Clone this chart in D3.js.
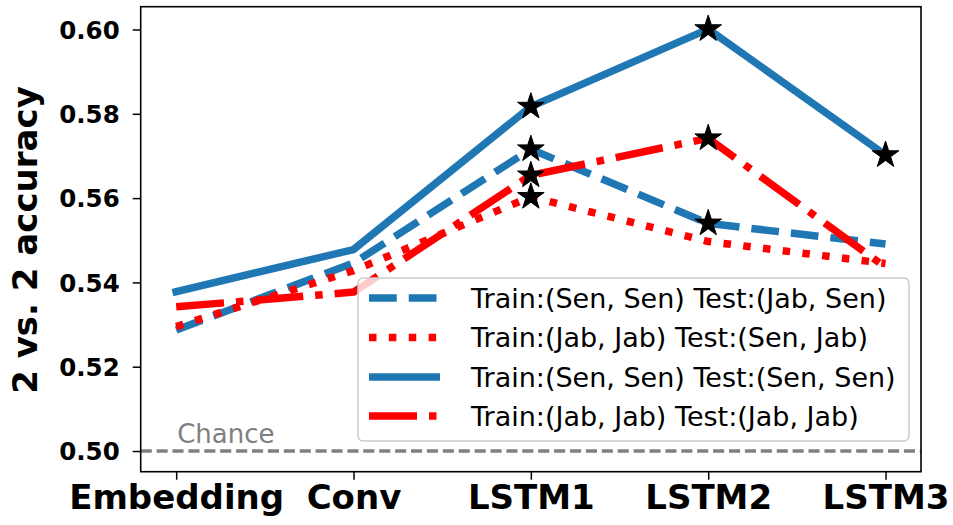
<!DOCTYPE html>
<html>
<head>
<meta charset="utf-8">
<script src="https://cdn.jsdelivr.net/npm/d3@7"></script>
<style>
  html, body { margin: 0; padding: 0; background: #fff; }
  svg { display: block; font-family: "DejaVu Sans", sans-serif; }
</style>
</head>
<body>
<svg id="chart" width="953" height="525"></svg>
<script>
// ---- data ----
const categories = ["Embedding", "Conv", "LSTM1", "LSTM2", "LSTM3"];
const senJabValues = [0.5287, 0.5446, 0.5716, 0.5540, 0.5491]; // Train:(Sen, Sen) Test:(Jab, Sen)
const jabSenValues = [0.5295, 0.5428, 0.5603, 0.5497, 0.5445]; // Train:(Jab, Jab) Test:(Sen, Jab)
const senSenValues = [0.5378, 0.5478, 0.5817, 0.6001, 0.5702]; // Train:(Sen, Sen) Test:(Sen, Sen)
const jabJabValues = [0.5342, 0.5377, 0.5654, 0.5742, 0.5436]; // Train:(Jab, Jab) Test:(Jab, Jab)
const senJabStars = [false, false, true, true, false];
const jabSenStars = [false, false, true, false, false];
const senSenStars = [false, false, true, true, true];
const jabJabStars = [false, false, true, true, false];
const seriesLabels = [
  "Train:(Sen, Sen) Test:(Jab, Sen)",
  "Train:(Jab, Jab) Test:(Sen, Jab)",
  "Train:(Sen, Sen) Test:(Sen, Sen)",
  "Train:(Jab, Jab) Test:(Jab, Jab)"
];
const yTicks = [0.50, 0.52, 0.54, 0.56, 0.58, 0.60];
const chanceLevel = 0.5;
const yAxisLabel = "2 vs. 2 accuracy";
const chanceLabel = "Chance";

// ---- styles ----
const LW = 7.5;
const blue = "#1f77b4", red = "#ff0000";
const series = [
  { label: seriesLabels[0], values: senJabValues, stars: senJabStars, color: blue, dash: `${3.7*LW},${1.6*LW}` },
  { label: seriesLabels[1], values: jabSenValues, stars: jabSenStars, color: red,  dash: `${1*LW},${1.65*LW}` },
  { label: seriesLabels[2], values: senSenValues, stars: senSenStars, color: blue, dash: null },
  { label: seriesLabels[3], values: jabJabValues, stars: jabJabStars, color: red,  dash: `${6.4*LW},${1.6*LW},${1*LW},${1.6*LW}` }
];

const svg = d3.select("#chart");
const plot = { left: 140.7, right: 921, top: 6.7, bottom: 471.7 };

const x = d3.scaleLinear().domain([-0.2, 4.2]).range([plot.left, plot.right]);
const y = d3.scaleLinear().domain([0.49509, 0.60541]).range([plot.bottom, plot.top]);

svg.append("defs").append("clipPath").attr("id", "clip")
  .append("rect").attr("x", plot.left).attr("y", plot.top)
  .attr("width", plot.right - plot.left).attr("height", plot.bottom - plot.top);

const g = svg.append("g").attr("clip-path", "url(#clip)");

// chance line
g.append("line")
  .attr("x1", plot.left).attr("x2", plot.right)
  .attr("y1", y(chanceLevel)).attr("y2", y(chanceLevel))
  .attr("stroke", "#808080").attr("stroke-width", 3.3)
  .attr("stroke-dasharray", "11.1,4.8");

svg.append("text")
  .attr("x", x(0) + 1).attr("y", y(chanceLevel) - 8)
  .attr("font-size", 26).attr("fill", "#808080")
  .text(chanceLabel);

// lines
const line = d3.line().x((d, i) => x(i)).y(d => y(d));
const star = d3.symbol().type(d3.symbolStar).size(220);

series.forEach(s => {
  g.append("path")
    .attr("d", line(s.values))
    .attr("fill", "none")
    .attr("stroke", s.color)
    .attr("stroke-width", LW)
    .attr("stroke-linejoin", "round")
    .attr("stroke-linecap", s.dash ? "butt" : "square")
    .attr("stroke-dasharray", s.dash);
  g.selectAll(null)
    .data(s.values.map((v, i) => ({ v, i })).filter(d => s.stars[d.i]))
    .join("path")
    .attr("d", star)
    .attr("transform", d => `translate(${x(d.i)},${y(d.v)})`)
    .attr("fill", "#000").attr("stroke", "#000").attr("stroke-width", 1);
});

// axes
const yAxis = d3.axisLeft(y).tickValues(yTicks).tickFormat(d3.format(".2f")).tickSize(8).tickPadding(13);
const yG = svg.append("g").attr("transform", `translate(${plot.left},0)`).call(yAxis);
yG.select(".domain").remove();
yG.selectAll(".tick line").attr("stroke", "#000").attr("stroke-width", 1.5);
yG.selectAll(".tick text").attr("font-size", 24.5).attr("font-weight", "bold")
  .attr("font-family", "DejaVu Sans").attr("fill", "#000").attr("dy", "0.36em");

const xAxis = d3.axisBottom(x).tickValues(d3.range(categories.length))
  .tickFormat(i => categories[i]).tickSize(8).tickPadding(6);
const xG = svg.append("g").attr("transform", `translate(0,${plot.bottom})`).call(xAxis);
xG.select(".domain").remove();
xG.selectAll(".tick line").attr("stroke", "#000").attr("stroke-width", 1.5);
xG.selectAll(".tick text").attr("font-size", 34).attr("font-weight", "bold")
  .attr("font-family", "DejaVu Sans").attr("fill", "#000").attr("dy", "0.69em");

// frame
svg.append("rect")
  .attr("x", plot.left).attr("y", plot.top)
  .attr("width", plot.right - plot.left).attr("height", plot.bottom - plot.top)
  .attr("fill", "none").attr("stroke", "#000").attr("stroke-width", 1.6);

// y label
svg.append("text")
  .attr("transform", `translate(37,240) rotate(-90)`)
  .attr("text-anchor", "middle")
  .attr("font-size", 34).attr("font-weight", "bold").attr("fill", "#000")
  .text(yAxisLabel);

// legend
const legend = svg.append("g");
legend.append("rect")
  .attr("x", 358).attr("y", 278).attr("width", 551).attr("height", 163)
  .attr("rx", 5).attr("ry", 5)
  .attr("fill", "#fff").attr("fill-opacity", 0.8)
  .attr("stroke", "#cccccc").attr("stroke-width", 1.5);
const rowY = [298, 337.5, 377, 416];
series.forEach((s, i) => {
  legend.append("line")
    .attr("x1", 369).attr("x2", 440)
    .attr("y1", rowY[i]).attr("y2", rowY[i])
    .attr("stroke", s.color).attr("stroke-width", LW)
    .attr("stroke-linecap", "butt")
    .attr("stroke-dasharray", s.dash);
  legend.append("text")
    .attr("x", 471).attr("y", rowY[i]).attr("dy", "0.36em")
    .attr("font-size", 27).attr("fill", "#000")
    .text(s.label);
});
</script>
</body>
</html>
